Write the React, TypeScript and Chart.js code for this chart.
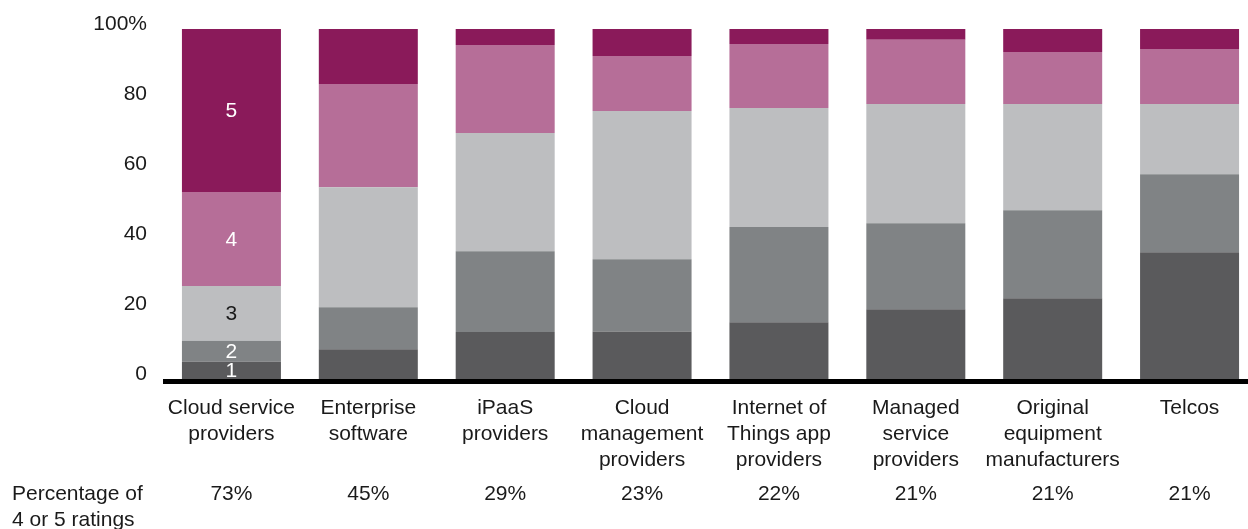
import React, { useEffect, useRef } from 'react';
import { Chart, registerables } from 'chart.js';

Chart.register(...registerables);

const categories: string[][] = [
  ['Cloud service', 'providers'],
  ['Enterprise', 'software'],
  ['iPaaS', 'providers'],
  ['Cloud', 'management', 'providers'],
  ['Internet of', 'Things app', 'providers'],
  ['Managed', 'service', 'providers'],
  ['Original', 'equipment', 'manufacturers'],
  ['Telcos'],
];

const rating1 = [4.9, 8.5, 13.4, 13.6, 16.2, 19.9, 23.1, 36.2];
const rating2 = [6.0, 12.0, 23.1, 20.6, 27.2, 24.6, 25.1, 22.3];
const rating3 = [15.7, 34.3, 33.8, 42.4, 34.0, 34.1, 30.4, 20.1];
const rating4 = [26.8, 29.5, 25.1, 15.7, 18.3, 18.3, 14.8, 15.7];
const rating5 = [46.6, 15.7, 4.6, 7.7, 4.3, 3.1, 6.6, 5.7];

const seriesNames = ['1', '2', '3', '4', '5'];
const seriesColors = ['#5a5a5c', '#808385', '#bdbec0', '#b66e98', '#8a1a5a'];
const seriesLabelColors = ['#ffffff', '#ffffff', '#1a1a1a', '#ffffff', '#ffffff'];

const shareOf4or5 = ['73%', '45%', '29%', '23%', '22%', '21%', '21%', '21%'];
const rowLabel = ['Percentage of', '4 or 5 ratings'];
const yTickValues = [0, 20, 40, 60, 80, 100];

const FONT = '"Liberation Sans", Arial, Helvetica, sans-serif';
const FS = 21;
const TEXT = '#1a1a1a';

export default function App() {
  const ref = useRef<HTMLCanvasElement | null>(null);

  useEffect(() => {
    document.body.style.margin = '0';
    document.body.style.overflow = 'hidden';
    const canvas = ref.current;
    if (!canvas) return;

    const series = [rating1, rating2, rating3, rating4, rating5];

    const overlay = {
      id: 'overlay',
      afterDatasetsDraw(chart: any) {
        const ctx = chart.ctx;
        const area = chart.chartArea;
        const xs = chart.scales.x;
        ctx.save();
        // thick baseline
        ctx.fillStyle = '#000000';
        ctx.fillRect(area.left, area.bottom, chart.width - area.left, 5);

        ctx.font = `${FS}px ${FONT}`;
        ctx.textAlign = 'center';
        ctx.textBaseline = 'middle';
        // segment labels on the first bar
        series.forEach((_, d) => {
          const meta = chart.getDatasetMeta(d);
          const el: any = meta.data[0];
          if (!el) return;
          const cy = (el.y + el.base) / 2;
          ctx.fillStyle = seriesLabelColors[d];
          ctx.fillText(seriesNames[d], el.x, cy + 1);
        });

        // percentage row
        ctx.fillStyle = TEXT;
        shareOf4or5.forEach((t, i) => {
          ctx.fillText(t, xs.getPixelForValue(i), 494);
        });
        ctx.textAlign = 'left';
        ctx.fillText(rowLabel[0], 12, 494);
        ctx.fillText(rowLabel[1], 12, 520);
        ctx.restore();
      },
    };

    const chart = new Chart(canvas, {
      type: 'bar',
      data: {
        labels: categories as any,
        datasets: series.map((s, d) => ({
          label: seriesNames[d],
          data: s,
          backgroundColor: seriesColors[d],
          borderWidth: 0,
          barPercentage: 99 / 136.875,
          categoryPercentage: 1,
        })),
      },
      options: {
        responsive: false,
        animation: false,
        devicePixelRatio: 1,
        layout: { padding: { top: 29, left: 0, right: 0, bottom: 0 } },
        plugins: {
          legend: { display: false },
          tooltip: { enabled: false },
        },
        scales: {
          x: {
            stacked: true,
            grid: { display: false, drawTicks: false },
            border: { display: false },
            ticks: {
              autoSkip: false,
              maxRotation: 0,
              minRotation: 0,
              padding: 16,
              color: TEXT,
              font: { family: FONT, size: FS, lineHeight: 26 / FS },
            },
            afterFit(scale: any) {
              scale.height = 150;
            },
          },
          y: {
            stacked: true,
            min: 0,
            max: 100,
            grid: { display: false, drawTicks: false },
            border: { display: false },
            afterBuildTicks(scale: any) {
              scale.ticks = yTickValues.map((v) => ({ value: v }));
            },
            ticks: {
              padding: 16,
              labelOffset: -4.5,
              color: TEXT,
              font: { family: FONT, size: FS },
              callback: (v: any) => (Number(v) === 100 ? '100%' : String(v)),
            },
            afterFit(scale: any) {
              scale.width = 163;
            },
          },
        },
      },
      plugins: [overlay],
    });

    return () => chart.destroy();
  }, []);

  return (
    <div
      style={{
        position: 'absolute',
        left: 0,
        top: 0,
        width: 1248,
        height: 529,
        overflow: 'hidden',
        background: '#ffffff',
      }}
    >
      <canvas ref={ref} width={1258} height={529} style={{ display: 'block' }} />
    </div>
  );
}
